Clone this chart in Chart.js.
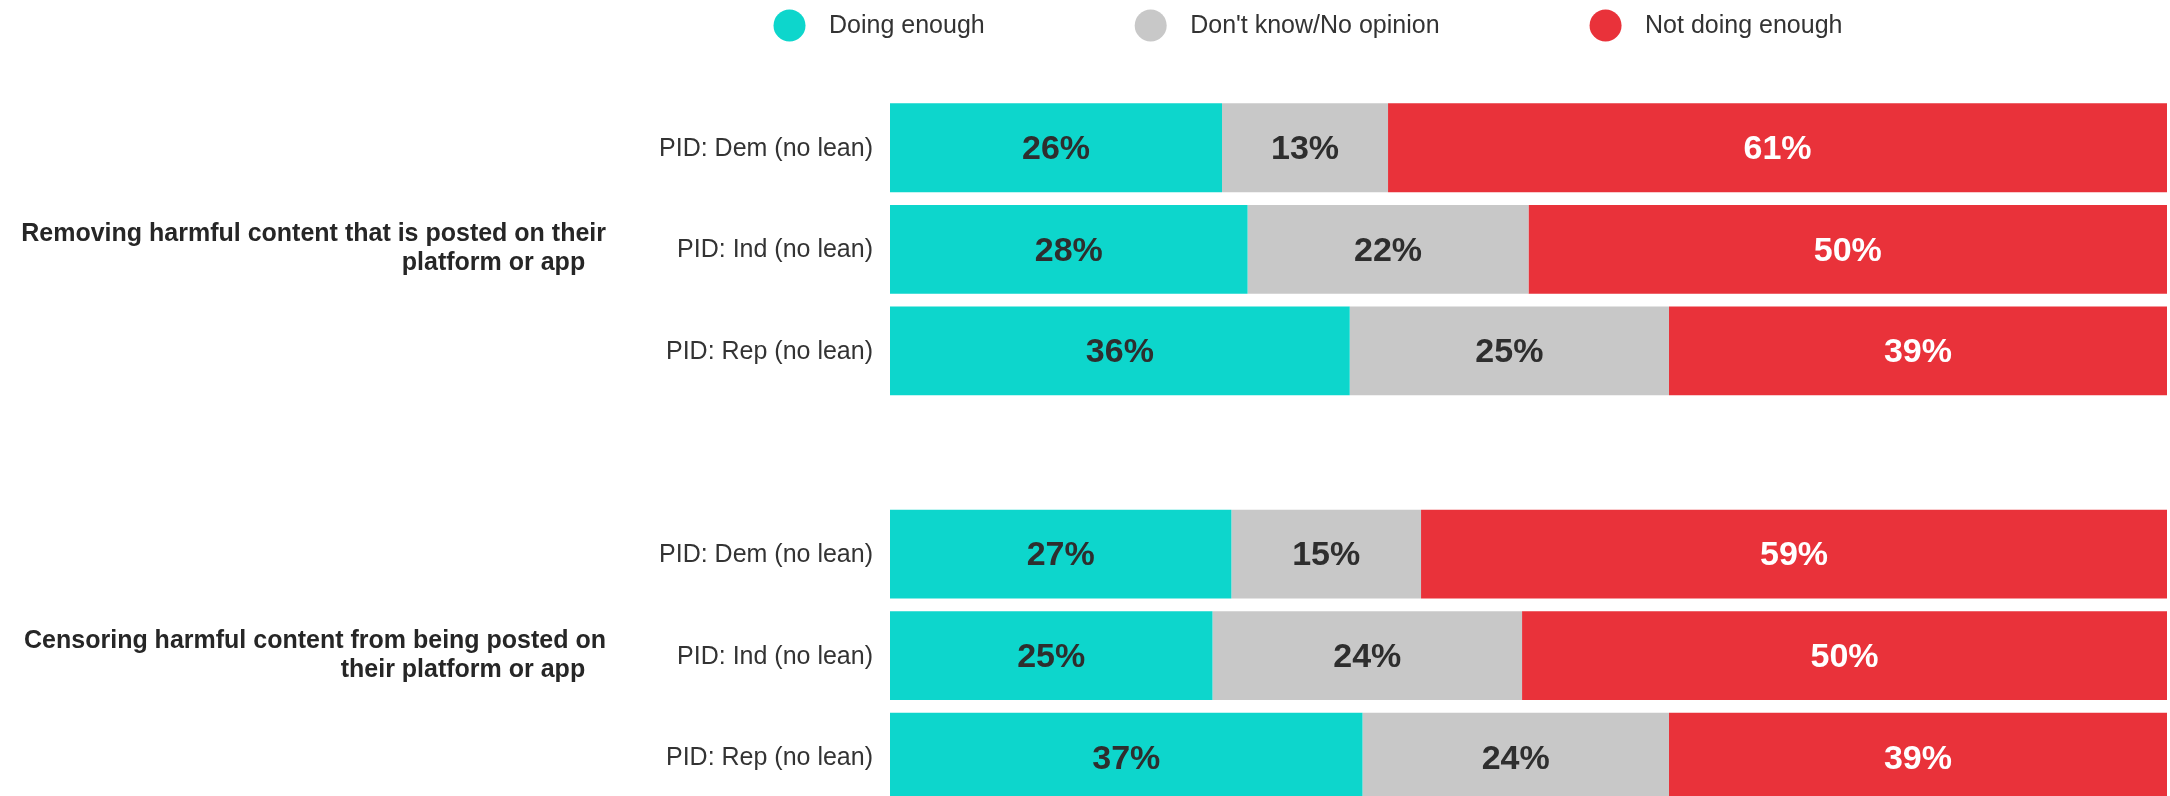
<!DOCTYPE html>
<html>
<head>
<meta charset="utf-8">
<script src="https://cdn.jsdelivr.net/npm/chart.js@4.4.1/dist/chart.umd.min.js"></script>
<style>
  html, body { margin: 0; padding: 0; background: #fff; overflow: hidden; }
</style>
</head>
<body>
<canvas id="platformChart" width="2170" height="808"></canvas>
<script>
// rows: three party groups per question, blank row between the two questions
const rowLabels = ['PID: Dem (no lean)', 'PID: Ind (no lean)', 'PID: Rep (no lean)', '',
                   'PID: Dem (no lean)', 'PID: Ind (no lean)', 'PID: Rep (no lean)'];
const questionLabels = ['',
  ['Removing harmful content that is posted on their', 'platform or app   '],
  '', '', '',
  ['Censoring harmful content from being posted on', 'their platform or app   '],
  ''];

const doingEnough = [26, 28, 36, null, 27, 25, 37];
const dontKnow    = [13, 22, 25, null, 15, 24, 24];
const notEnough   = [61, 50, 39, null, 59, 50, 39];

const FONT = '"Liberation Sans", Arial, Helvetica, sans-serif';

// each bar is drawn as share of its row total (rounded values don't always add to 100)
const rowTotal = rowLabels.map((_, i) => (doingEnough[i] || 0) + (dontKnow[i] || 0) + (notEnough[i] || 0));
const share = arr => arr.map((v, i) => v == null ? null : v / rowTotal[i] * 100);

const series = [
  { label: 'Doing enough', values: doingEnough, color: '#0dd6cc', text: '#2e2e2e' },
  { label: "Don't know/No opinion", values: dontKnow, color: '#c8c8c8', text: '#2e2e2e' },
  { label: 'Not doing enough', values: notEnough, color: '#e9323a', text: '#ffffff' }
];

// percentage inside each bar segment
const barText = {
  id: 'barText',
  afterDatasetsDraw(chart) {
    const ctx = chart.ctx;
    ctx.save();
    ctx.font = 'bold 34px ' + FONT;
    ctx.textAlign = 'center';
    ctx.textBaseline = 'middle';
    chart.data.datasets.forEach((ds, di) => {
      const meta = chart.getDatasetMeta(di);
      meta.data.forEach((bar, i) => {
        const v = series[di].values[i];
        if (v == null) return;
        const p = bar.getProps(['x', 'y', 'base'], true);
        ctx.fillStyle = series[di].text;
        ctx.fillText(v + '%', (p.x + p.base) / 2, p.y + 2);
      });
    });
    ctx.restore();
  }
};

// legend row with round markers across the top
const dotLegend = {
  id: 'dotLegend',
  afterDraw(chart) {
    const ctx = chart.ctx;
    ctx.save();
    ctx.font = '25px ' + FONT;
    ctx.textBaseline = 'middle';
    let x = 773.5;
    const y = 25.5, r = 16;
    chart.data.datasets.forEach(ds => {
      ctx.fillStyle = ds.backgroundColor;
      ctx.beginPath();
      ctx.arc(x + r, y, r, 0, Math.PI * 2);
      ctx.fill();
      ctx.fillStyle = '#333';
      const tx = x + r + 39.5;
      ctx.fillText(ds.label, tx, y + 1);
      x = tx + ctx.measureText(ds.label).width + 150;
    });
    ctx.restore();
  }
};

// fixed axis widths, and no extra room kept for the end labels
const fitAxis = w => s => {
  s.width = w;
  s.paddingTop = 0;
  s.paddingBottom = 0;
};

const ctx = document.getElementById('platformChart').getContext('2d');
const platformChart = new Chart(ctx, {
  type: 'bar',
  data: {
    labels: rowLabels,
    datasets: series.map(s => ({
      label: s.label,
      data: share(s.values),
      backgroundColor: s.color,
      borderWidth: 0,
      barPercentage: 0.875,
      categoryPercentage: 1
    }))
  },
  options: {
    indexAxis: 'y',
    responsive: false,
    animation: false,
    devicePixelRatio: 1,
    layout: { padding: { top: 97, right: 3, bottom: 0, left: 0 } },
    plugins: {
      legend: { display: false },
      tooltip: { enabled: false }
    },
    scales: {
      x: { stacked: true, min: 0, max: 100, display: false },
      y: {
        stacked: true,
        offset: true,
        position: 'left',
        weight: 0,
        grid: { display: false, drawTicks: false },
        border: { display: false },
        ticks: { autoSkip: false, padding: 17, labelOffset: 1, color: '#333', font: { family: FONT, size: 25 } },
        afterFit: fitAxis(270)
      },
      question: {
        axis: 'y',
        type: 'category',
        labels: questionLabels,
        offset: true,
        position: 'left',
        weight: 1,
        grid: { display: false, drawTicks: false },
        border: { display: false },
        ticks: {
          autoSkip: false, padding: 14, labelOffset: -0.5, color: '#262626',
          font: { family: FONT, size: 25, weight: 'bold', lineHeight: 1.16 }
        },
        afterFit: fitAxis(620)
      }
    }
  },
  plugins: [barText, dotLegend]
});
</script>
</body>
</html>
